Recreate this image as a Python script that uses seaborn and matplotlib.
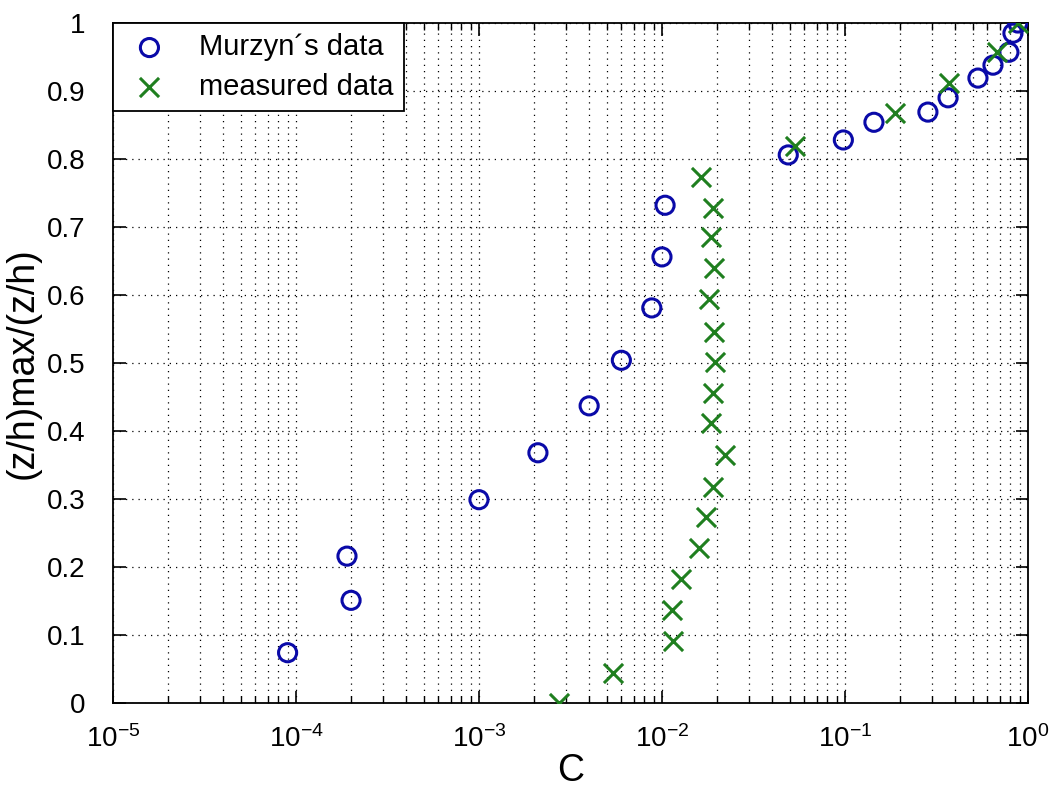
import matplotlib
matplotlib.use("Agg")
import matplotlib.pyplot as plt
import matplotlib.ticker as mticker
import seaborn as sns
import numpy as np
import pandas as pd

# Murzyn's data (blue circles)
murzyn_c = [9e-5, 1.9e-4, 2.0e-4, 1.0e-3, 2.1e-3, 4.0e-3, 6.0e-3, 8.8e-3, 1.0e-2, 1.04e-2,
            4.9e-2, 0.098, 0.144, 0.284, 0.366, 0.533, 0.644, 0.787, 0.828, 0.88]
murzyn_z = [0.074, 0.216, 0.151, 0.299, 0.368, 0.437, 0.504, 0.581, 0.656, 0.732,
            0.806, 0.828, 0.854, 0.869, 0.890, 0.919, 0.938, 0.957, 0.985, 1.0]

# measured data (green crosses)
measured_c = [2.75e-3, 5.4e-3, 1.15e-2, 1.13e-2, 1.27e-2, 1.59e-2, 1.74e-2, 1.9e-2, 2.2e-2,
              1.85e-2, 1.9e-2, 1.94e-2, 1.92e-2, 1.81e-2, 1.92e-2, 1.85e-2, 1.9e-2, 1.63e-2,
              5.3e-2, 0.188, 0.37, 0.676, 0.88]
measured_z = [0.0, 0.044, 0.091, 0.137, 0.182, 0.228, 0.274, 0.318, 0.365,
              0.412, 0.456, 0.501, 0.546, 0.594, 0.640, 0.685, 0.728, 0.774,
              0.819, 0.868, 0.912, 0.957, 1.0]

y_ticks = [0, 0.1, 0.2, 0.3, 0.4, 0.5, 0.6, 0.7, 0.8, 0.9, 1]

sns.set_style("white")
plt.rcParams["font.family"] = ["Liberation Sans", "DejaVu Sans"]
plt.rcParams["mathtext.fontset"] = "custom"
plt.rcParams["mathtext.rm"] = "Liberation Sans"
plt.rcParams["mathtext.it"] = "Liberation Sans"
plt.rcParams["mathtext.default"] = "regular"
plt.rcParams["text.color"] = "black"
plt.rcParams["axes.labelcolor"] = "black"

fig = plt.figure(figsize=(10.5, 7.96), dpi=100)
ax = fig.add_axes([0.1076, 0.1168, 0.8714, 0.8543])

df_m = pd.DataFrame({"C": murzyn_c, "z": murzyn_z})
df_x = pd.DataFrame({"C": measured_c, "z": measured_z})

blue = "#0a0aa8"
green = "#1f7f1f"

sns.scatterplot(data=df_m, x="C", y="z", ax=ax, marker="o", s=170,
                facecolor="none", edgecolor=blue, linewidth=2.2,
                label="Murzyn\u00b4s data", zorder=3)
sns.scatterplot(data=df_x, x="C", y="z", ax=ax, marker="x", s=190,
                color=green, linewidth=2.2, label="measured data", zorder=3)

ax.set_xscale("log")
ax.set_xlim(1e-5, 1)
ax.set_ylim(0, 1)
ax.set_yticks(y_ticks)
ax.yaxis.set_major_formatter(mticker.FuncFormatter(lambda v, p: "%g" % v))
ax.xaxis.set_major_locator(mticker.LogLocator(base=10, numticks=10))
ax.xaxis.set_minor_locator(mticker.LogLocator(base=10, subs=np.arange(2, 10), numticks=20))
ax.xaxis.set_minor_formatter(mticker.NullFormatter())

ax.grid(True, which="major", axis="both", color="black", linestyle=(0, (1, 4)), linewidth=0.9)
ax.grid(True, which="minor", axis="x", color="black", linestyle=(0, (1, 4)), linewidth=0.9)

ax.tick_params(which="both", direction="in", top=True, right=True, bottom=True, left=True,
               colors="black", labelsize=20)
ax.tick_params(which="major", length=9, width=1.2)
ax.tick_params(which="minor", length=5, width=1.0)
ax.tick_params(axis="x", pad=16)
ax.tick_params(axis="y", pad=20)
for sp in ax.spines.values():
    sp.set_color("black")
    sp.set_linewidth(1.3)
    sp.set_visible(True)

ax.set_xlabel("C", fontsize=27, labelpad=0, color="black")
ax.set_ylabel("(z/h)max/(z/h)", fontsize=27, labelpad=4, color="black")

leg = ax.legend(loc="upper left", borderaxespad=0, fontsize=21, frameon=True,
                fancybox=False, edgecolor="black", framealpha=1, handletextpad=0.8,
                borderpad=0.35, labelspacing=0.4, handlelength=1.8)
leg.get_frame().set_linewidth(1.3)
for t in leg.get_texts():
    t.set_color("black")

fig.savefig("out.png", dpi=100, facecolor="white")
